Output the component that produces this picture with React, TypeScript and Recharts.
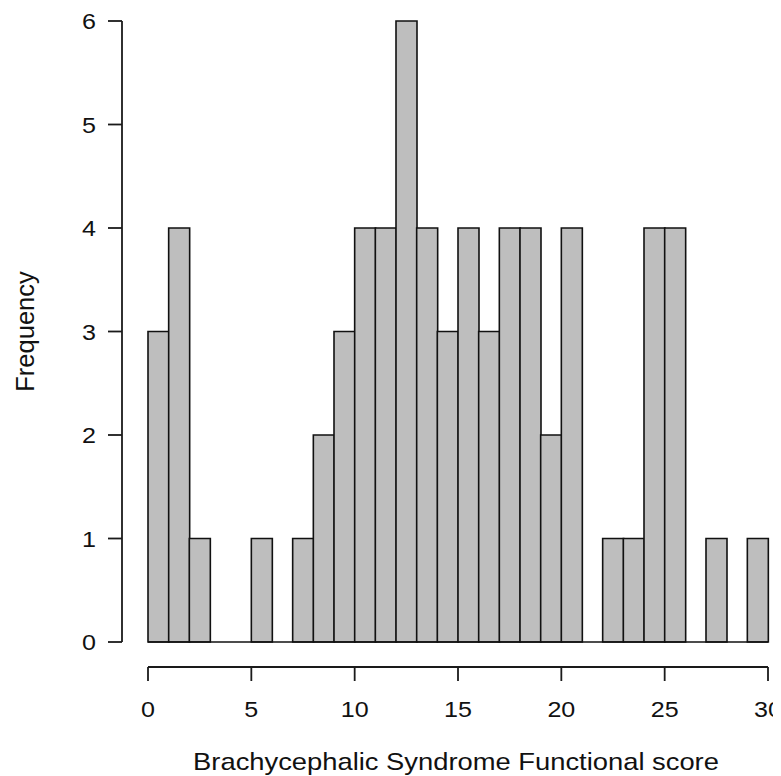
import { BarChart, Bar, XAxis, YAxis, ReferenceLine } from 'recharts';

// histogram bins of width 1, from 0 to 30
const binStarts = [
  0, 1, 2, 3, 4, 5, 6, 7, 8, 9, 10, 11, 12, 13, 14, 15, 16, 17, 18, 19, 20, 21, 22, 23, 24, 25, 26, 27, 28, 29,
];
const frequency = [
  3, 4, 1, 0, 0, 1, 0, 1, 2, 3, 4, 4, 6, 4, 3, 4, 3, 4, 4, 2, 4, 0, 1, 1, 4, 4, 0, 1, 0, 1,
];
const xTicks = [0, 5, 10, 15, 20, 25, 30];
const yTicks = [0, 1, 2, 3, 4, 5, 6];

const data = binStarts.map((b, i) => ({ bin: b, mid: b + 0.5, count: frequency[i] }));

const W = 773;
const H = 768;
const PLOT_W = 620;
const PLOT_H = 621;
const AXIS_GAP = 25; // R-style detached axes
const TICK_LEN = 14;
const INK = '#1a1a1a';
const FONT = '"Liberation Sans", Arial, sans-serif';
const STRETCH = 1.14; // the source text is a bit wide

function Wide({ x, y, anchor, size, children }: any) {
  return (
    <text
      transform={`translate(${x} ${y}) scale(${STRETCH} 1)`}
      textAnchor={anchor}
      fontSize={size}
      fontFamily={FONT}
      fill="#111"
    >
      {children}
    </text>
  );
}

function YTick(props: any) {
  const { x, y, payload, index } = props;
  const ax = x - AXIS_GAP - 1;
  return (
    <g>
      {index === 0 && <line x1={ax} x2={ax} y1={y} y2={y - PLOT_H} stroke={INK} strokeWidth={1.8} />}
      <line x1={ax - TICK_LEN} x2={ax} y1={y} y2={y} stroke={INK} strokeWidth={1.8} />
      <Wide x={ax - TICK_LEN - 12} y={y + 8} anchor="end" size={22}>
        {payload.value}
      </Wide>
    </g>
  );
}

function XTick(props: any) {
  const { x, y, payload, index } = props;
  const ay = y + AXIS_GAP;
  return (
    <g>
      {index === 0 && <line x1={x} x2={x + PLOT_W} y1={ay} y2={ay} stroke={INK} strokeWidth={1.8} />}
      <line x1={x} x2={x} y1={ay} y2={ay + TICK_LEN} stroke={INK} strokeWidth={1.8} />
      <Wide x={x} y={y + 75} anchor="middle" size={22}>
        {payload.value}
      </Wide>
    </g>
  );
}

export default function App() {
  return (
    <div style={{ width: W, height: H, background: '#fff' }}>
      <BarChart
        width={W}
        height={H}
        data={data}
        margin={{ top: 13, right: 13, bottom: 74, left: 80 }}
        barCategoryGap={0}
        barGap={0}
      >
        <XAxis xAxisId="bins" dataKey="bin" type="category" hide height={0} />
        <XAxis
          xAxisId="score"
          dataKey="mid"
          type="number"
          domain={[0, 30]}
          ticks={xTicks}
          height={60}
          axisLine={false}
          tickLine={false}
          tickSize={0}
          tickMargin={0}
          tick={<XTick />}
          interval={0}
        />
        <YAxis
          type="number"
          domain={[0, 6]}
          ticks={yTicks}
          width={60}
          axisLine={false}
          tickLine={false}
          tickSize={0}
          tickMargin={0}
          tick={<YTick />}
          interval={0}
        />
        <Bar
          xAxisId="bins"
          dataKey="count"
          fill="#bebebe"
          stroke="#111"
          strokeWidth={1.6}
          isAnimationActive={false}
        />
        <ReferenceLine xAxisId="bins" y={0} stroke="#111" strokeWidth={1.6} />
        <text x={26} y={323.5} transform="rotate(-90 26 323.5)" textAnchor="middle" fontSize={25.5} fontFamily={FONT} fill="#111">
          Frequency
        </text>
        <Wide x={448} y={762} anchor="middle" size={24}>
          Brachycephalic Syndrome Functional score
        </Wide>
      </BarChart>
    </div>
  );
}
